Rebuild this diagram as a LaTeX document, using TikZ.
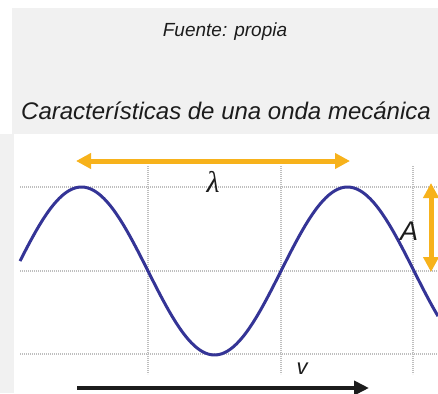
\documentclass[tikz,border=0pt]{standalone}
\usepackage{fontspec}
\setsansfont{Liberation Sans}
\newfontfamily\lamfont{Liberation Serif}
\usetikzlibrary{arrows.meta, positioning}
\definecolor{wavblue}{RGB}{52,52,150}
\definecolor{myamber}{RGB}{247,178,27}
\definecolor{mydark}{RGB}{28,28,28}
\definecolor{panelgray}{RGB}{241,241,241}
\definecolor{gridgray}{RGB}{190,190,190}
\tikzset{
  gridline/.style={gridgray, line width=1.6pt, dash pattern=on 1.2pt off 0.8pt},
  yarrow/.style={{Triangle[length=15pt,width=15pt]}-{Triangle[length=15pt,width=15pt]},
    line width=5pt, color=myamber},
  karrow/.style={-{Triangle[length=15pt,width=14pt]}, line width=4pt, color=mydark},
  wave/.style={wavblue, line width=3pt},
  srctext/.style={font=\sffamily\itshape\fontsize{19}{22}\selectfont, text=mydark},
  titletext/.style={font=\sffamily\itshape\fontsize{24}{28}\selectfont, text=mydark},
  symtext/.style={font=\sffamily\itshape\fontsize{27}{30}\selectfont, text=mydark, inner sep=0pt}
}
\begin{document}
\begin{tikzpicture}[x=1pt, y=-1pt]
  \useasboundingbox (0,0) rectangle (438,393);
  % Panels
  \fill[white] (0,0) rectangle (438,393);
  \fill[panelgray] (12,8) rectangle (438,134);
  \fill[panelgray] (0,134) rectangle (14,393);

  % Captions
  \node[srctext] (fuente) at (225,32) {Fuente: propia};
  \node[titletext] (titulo) at (226,111) {Características de una onda mecánica};

  % Grid
  \foreach \y in {187,271,354} {
    \draw[gridline] (20,\y) -- (438,\y);
  }
  \foreach \x in {148,281,413} {
    \draw[gridline] (\x,166) -- (\x,374);
  }

  % Wave (period 266)
  \draw[wave, domain=20:438, samples=150, smooth] plot (\x, {271+84*sin(1.35338*(\x-148))});

  % Wavelength
  \coordinate (lamL) at (76,161);
  \coordinate (lamR) at (350,161);
  \draw[yarrow] (lamL) -- (lamR);
  \node[inner sep=0pt, text=mydark, font=\lamfont\itshape\fontsize{30}{32}\selectfont] (lam) at (213,182) {λ};

  % Amplitude
  \coordinate (ampT) at (431,183);
  \coordinate (ampB) at (431,272);
  \draw[yarrow] (ampT) -- (ampB);
  \node[symtext] (amp) at (409,231) {A};

  % Speed
  \coordinate (velL) at (77,388);
  \coordinate (velR) at (369,388);
  \draw[karrow] (velL) -- (velR);
  \node[symtext, anchor=base, font=\sffamily\itshape\fontsize{22}{24}\selectfont] (vel) at (302,374) {v};
\end{tikzpicture}
\end{document}
